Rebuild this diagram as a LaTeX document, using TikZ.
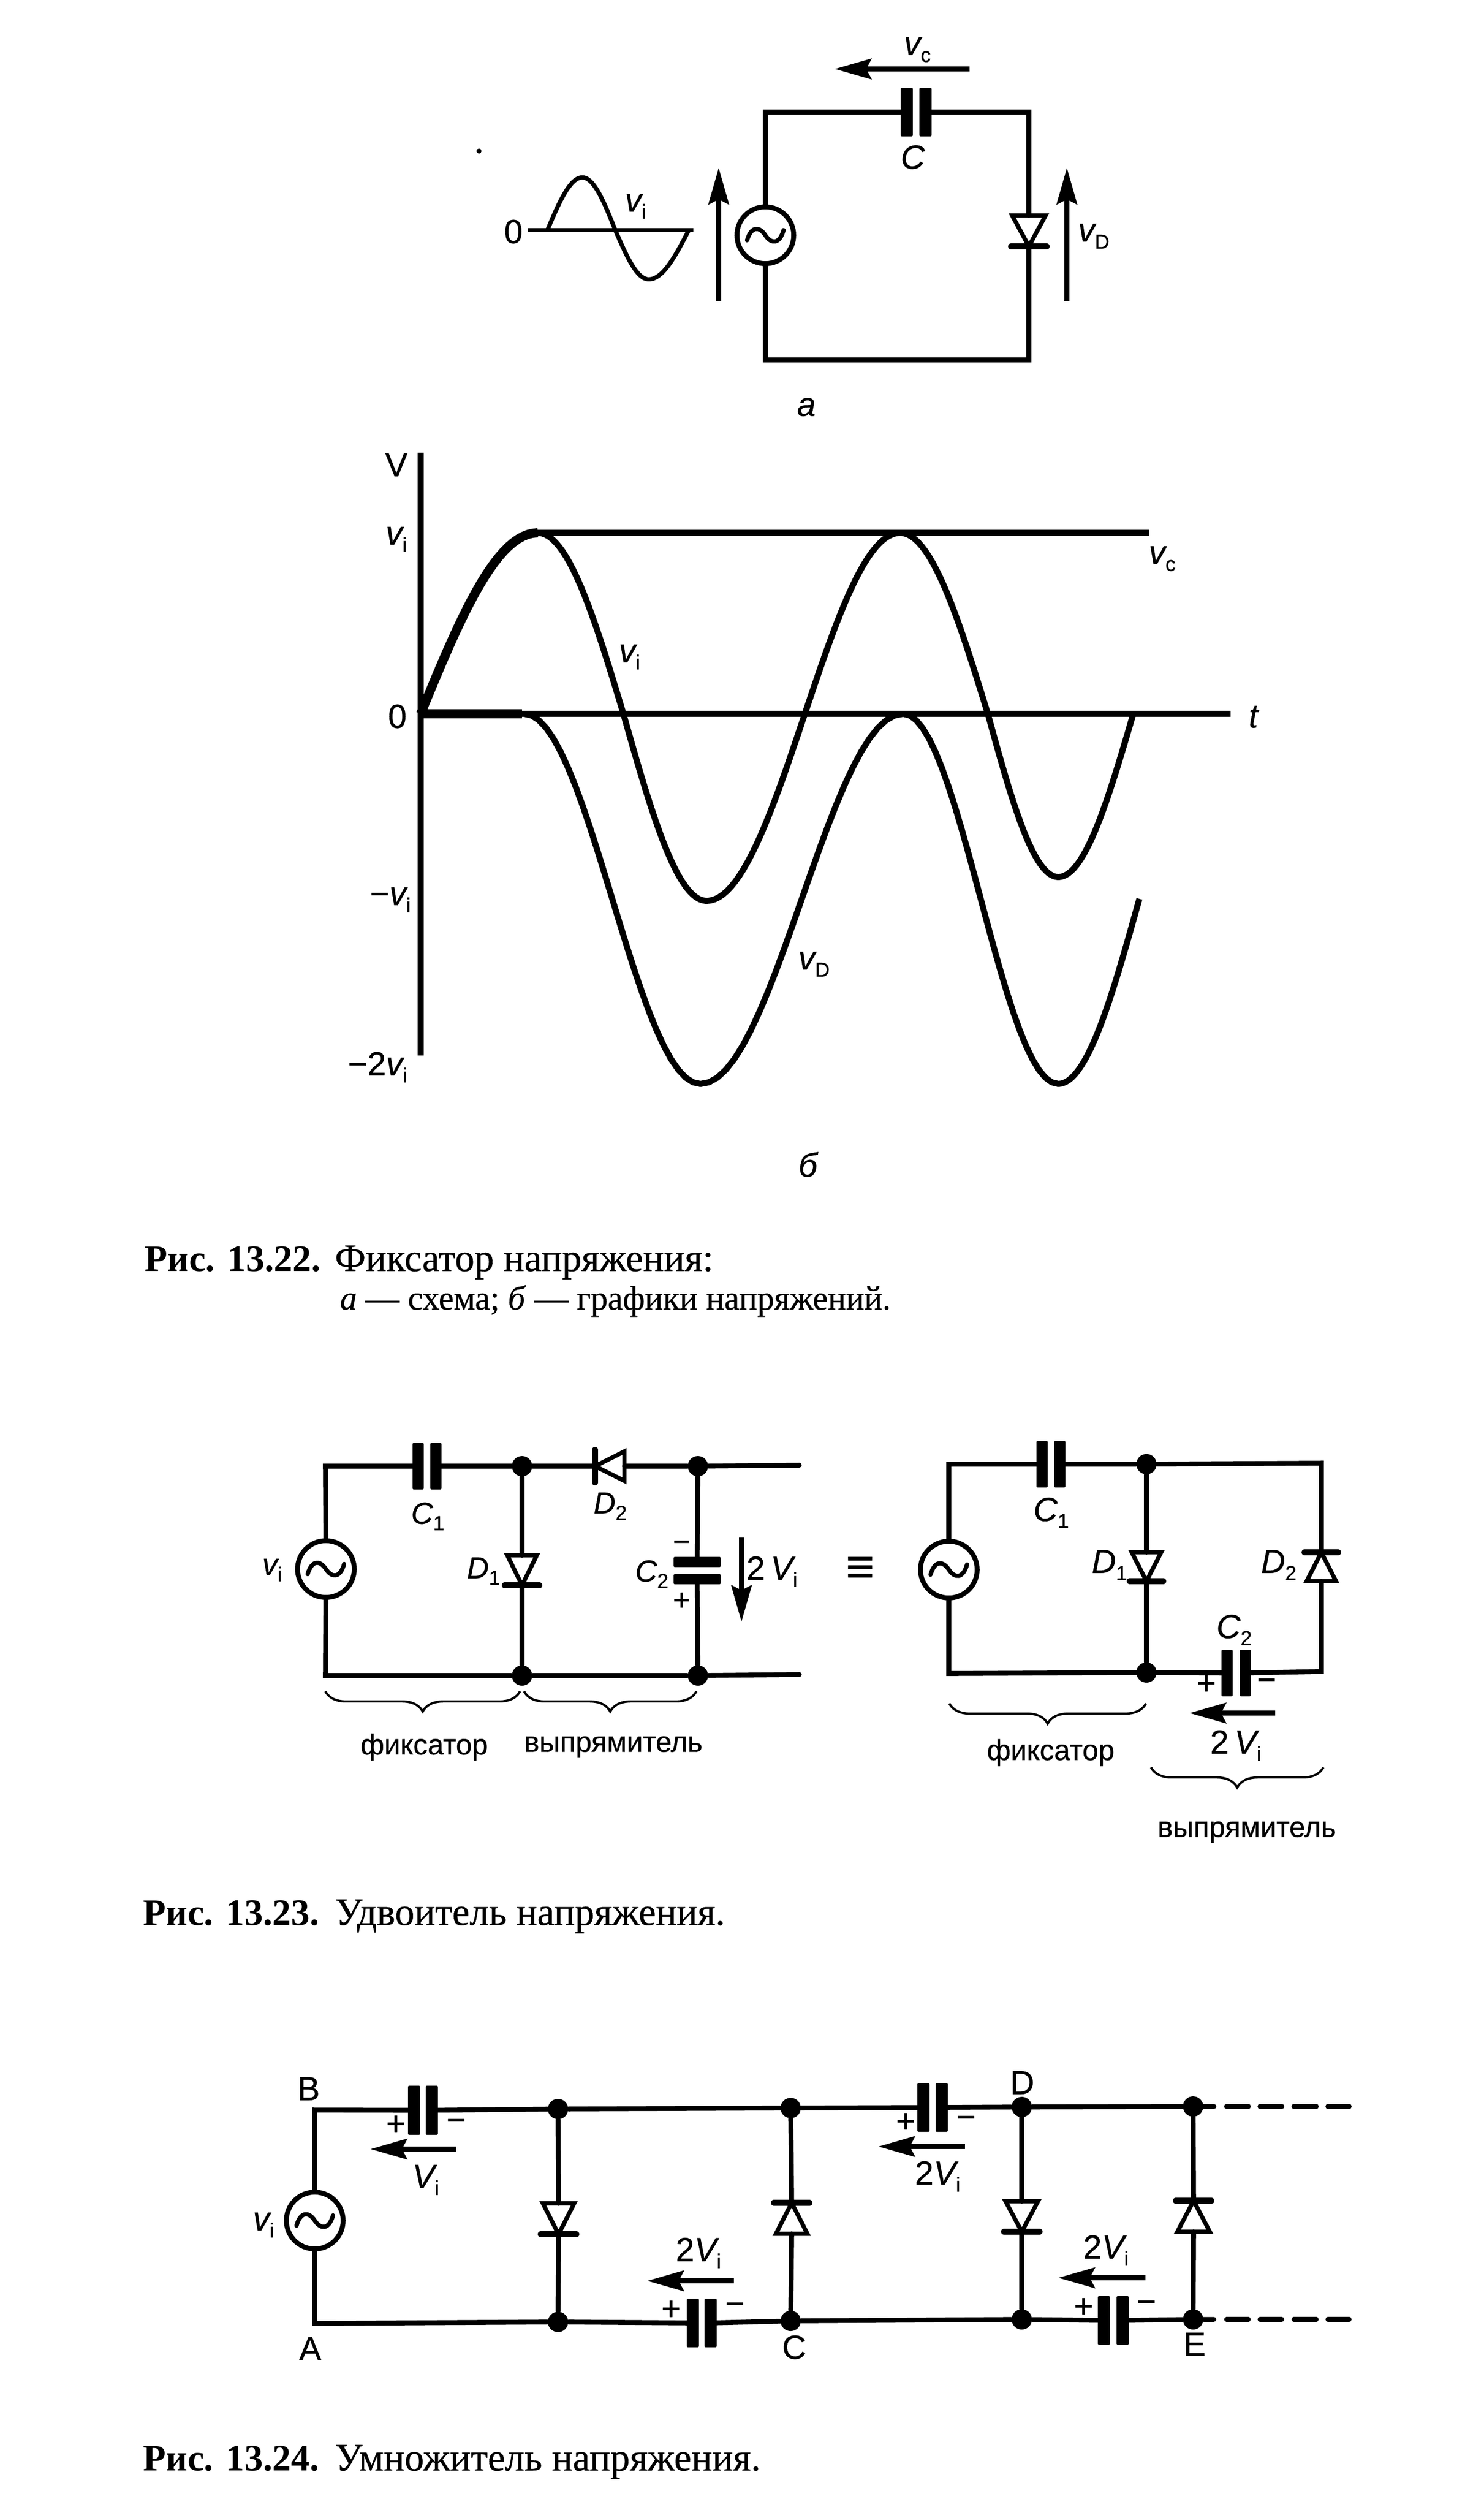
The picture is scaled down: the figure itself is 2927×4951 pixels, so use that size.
\documentclass[tikz,border=0pt]{standalone}
\usepackage{fontspec}
\setmainfont{Liberation Sans}[FakeBold=0.5]
\newfontfamily\capfont{Liberation Serif}[FakeBold=0.5]
\newfontfamily\capbold{Liberation Serif Bold}
\usetikzlibrary{arrows.meta,decorations.pathreplacing}
\tikzset{
  x=.25pt,y=-.25pt,
  wire/.style={line width=2.4pt,line join=miter,line cap=round},
  sinew/.style={line width=2.1pt,line join=round},
  curve/.style={line width=3pt,line join=round},
  src/.style={circle,draw,line width=2.4pt,minimum size=28pt,inner sep=0pt},
  tildew/.style={line width=2.1pt,line cap=round},
  junc/.style={circle,fill=black,minimum size=10pt,inner sep=0pt},
  plate/.style={fill=black,rounded corners=.6pt},
  diotri/.style={line width=2.1pt,line join=miter,fill=white},
  diobar/.style={line width=3pt,line cap=round},
  harrow/.style={line width=2.4pt,-{Stealth[length=18pt,width=10pt,inset=2.5pt]}},
  brc/.style={line width=1.1pt,decorate,decoration={brace,amplitude=10pt,aspect=.5}},
  dashw/.style={line width=2.4pt,line cap=round},
  lb/.style={inner sep=0pt,font=\fontsize{16.5}{18}\selectfont},
  lbs/.style={inner sep=0pt,font=\fontsize{15}{17}\selectfont},
  ru/.style={inner sep=0pt,font=\fontsize{14.2}{17}\selectfont},
  capb/.style={inner sep=0pt,anchor=base west,font=\capbold\fontsize{18.4}{20}\selectfont},
  capn/.style={inner sep=0pt,anchor=base west,font=\capfont\fontsize{19.2}{20}\selectfont},
  capm/.style={inner sep=0pt,anchor=base west,font=\capfont\fontsize{16.75}{19}\selectfont},
}
\newcommand\subt[1]{\raisebox{-.4ex}{\fontsize{10}{10}\selectfont #1}}
\newcommand\vv[1]{{\itshape v}\subt{#1}}
\newcommand\VV[1]{{\itshape V}\subt{#1}}
\newcommand\CC[2]{{\itshape #1}\subt{#2}}
\newcommand\sseg[6]{-- plot[domain=#1:#2,samples=25] ({#3+(\x-#1)/(#2-#1)*(#4-#3)},{#5-#6*sin(\x)})}
% name, x, y base, y bar, half base, half bar
\newcommand\diodeV[6]{%
  \coordinate (#1a) at (#2,#3); \coordinate (#1k) at (#2,#4);
  \draw[diotri] (#2-#5,#3) -- (#2+#5,#3) -- (#2,#4) -- cycle;
  \draw[diobar] (#2-#6,#4) -- (#2+#6,#4);}
% name, y, x base, x bar, half base, half bar
\newcommand\diodeH[6]{%
  \coordinate (#1a) at (#3,#2); \coordinate (#1k) at (#4,#2);
  \draw[diotri] (#3,#2-#5) -- (#3,#2+#5) -- (#4,#2) -- cycle;
  \draw[diobar] (#4,#2-#6) -- (#4,#2+#6);}
% name, x1, x2, y top, y bottom, half thickness : vertical plates
\newcommand\capV[6]{%
  \fill[plate] (#2-#6,#4) rectangle (#2+#6,#5);
  \fill[plate] (#3-#6,#4) rectangle (#3+#6,#5);
  \coordinate (#1l) at (#2,#4/2+#5/2); \coordinate (#1r) at (#3,#4/2+#5/2);}
% name, y1, y2, x left, x right, half thickness : horizontal plates
\newcommand\capH[6]{%
  \fill[plate] (#4,#2-#6) rectangle (#5,#2+#6);
  \fill[plate] (#4,#3-#6) rectangle (#5,#3+#6);
  \coordinate (#1t) at (#4/2+#5/2,#2); \coordinate (#1b) at (#4/2+#5/2,#3);}
\newcommand\srcwave[1]{\begin{scope}[shift={(#1)}]
  \draw[tildew] (-36,10) .. controls (-28,-18) and (-12,-18) .. (0,0) .. controls (12,18) and (28,18) .. (36,-10);
  \end{scope}}
\begin{document}
\begin{tikzpicture}
\useasboundingbox (0,0) rectangle (2927,4951);
\fill[white] (0,0) rectangle (2927,4951);
\fill (945,298) circle (5);

% ---------- Fig a
\node[src] (sA) at (1510,464) {};
\srcwave{sA}
\capV{cA}{1789}{1826}{173}{269}{12}
\diodeV{dA}{2030}{425}{486}{33}{35}
\coordinate (tAl) at (1510,221); \coordinate (tAr) at (2030,221);
\coordinate (bAl) at (1510,710); \coordinate (bAr) at (2030,710);
\draw[wire] (sA.north) -- (tAl) -- (cAl);
\draw[wire] (cAr) -- (tAr) -- (dAa);
\draw[wire] (dAk) -- (bAr) -- (bAl) -- (sA.south);
\coordinate (avcs) at (1913,136); \coordinate (avce) at (1647,136);
\draw[harrow] (avcs) -- (avce);
\coordinate (avis) at (1418,594); \coordinate (avie) at (1418,331);
\draw[harrow] (avis) -- (avie);
\coordinate (avds) at (2105,594); \coordinate (avde) at (2105,331);
\draw[harrow] (avds) -- (avde);
\node[lb] (lvc) at (1810,98) {\vv{c}};
\node[lb] (lC) at (1801,310) {\itshape C};
\node[lb] (lvD) at (2158,466) {\vv{D}};
\node[lb] (lvi) at (1254,407) {\vv{i}};
\node[lb] (l0) at (1013,457) {0};
\node[lb] (la) at (1591,803) {\itshape a};
\coordinate (sax0) at (1042,454); \coordinate (sax1) at (1368,454);
\draw[sinew] (sax0) -- (sax1);
\draw[sinew] (1080,454) \sseg{0}{90}{1080}{1149}{454}{104}\sseg{90}{180}{1149}{1214}{454}{104}\sseg{180}{270}{1214}{1280}{454}{97}\sseg{270}{360}{1280}{1359}{454}{97};

% ---------- Fig b
\coordinate (gy0) at (830,893); \coordinate (gy1) at (830,2082);
\coordinate (gx0) at (830,1408); \coordinate (gx1) at (2428,1408);
\coordinate (gc0) at (1061,1051); \coordinate (gc1) at (2267,1051);
\draw[curve] (gy0) -- (gy1);
\draw[curve] (gx0) -- (gx1);
\draw[curve] (gc0) -- (gc1);
\draw[line width=4.5pt] (gx0) -- (1030,1408);
\draw[line width=4.5pt,line join=round] (830,1408) \sseg{0}{90}{830}{1061}{1408}{357};
\draw[curve] (830,1408) \sseg{0}{90}{830}{1061}{1408}{357}\sseg{90}{180}{1061}{1230}{1408}{357}\sseg{180}{270}{1230}{1394}{1408}{369}\sseg{270}{360}{1394}{1588}{1408}{369}\sseg{0}{90}{1588}{1776}{1408}{357}\sseg{90}{180}{1776}{1949}{1408}{357}\sseg{180}{270}{1949}{2088}{1408}{322}\sseg{270}{360}{2088}{2236}{1408}{322};
\draw[curve] (1034,1408) \sseg{90}{270}{1034}{1382}{1773}{365}\sseg{270}{450}{1382}{1782}{1773}{365}\sseg{450}{630}{1782}{2088}{1773}{365}\sseg{630}{720}{2088}{2248}{1773}{365};
\node[lb] (gV) at (782,917) {V};
\node[lb] (gvi) at (782,1064) {\vv{i}};
\node[lb] (g0) at (784,1413) {0};
\node[lb] (gmv) at (770,1775) {−\vv{i}};
\node[lb] (g2v) at (745,2105) {−2\vv{i}};
\node[lb] (gcvi) at (1242,1296) {\vv{i}};
\node[lb] (gcvc) at (2293,1102) {\vv{c}};
\node[lb] (gcvd) at (1606,1902) {\vv{D}};
\node[lb] (gt) at (2473,1414) {\itshape t};
\node[lb] (gb) at (1594,2297) {\itshape б};

\node[capb] (cap1h) at (285,2507) {Рис. 13.22.};
\node[capn] (cap1) at (660,2507) {Фиксатор напряжения:};
\node[capm] (cap1b) at (670,2583) {\textit{а} — схема; \textit{б} — графики напряжений.};

% ---------- Fig 13.23 left
\node[src] (s2) at (643,3095) {};
\srcwave{s2}
\node[junc] (n1) at (1030,2892) {};
\node[junc] (n2) at (1377,2892) {};
\node[junc] (n3) at (1030,3305) {};
\node[junc] (n4) at (1377,3305) {};
\coordinate (t2l) at (642,2892); \coordinate (b2l) at (642,3305);
\coordinate (e2t) at (1577,2890); \coordinate (e2b) at (1577,3303);
\capV{c21}{825}{860}{2846}{2938}{11}
\diodeV{d21}{1030}{3068}{3127}{29}{34}
\diodeH{d22}{2892}{1232}{1174}{29}{32}
\capH{c22}{3081}{3115}{1329}{1422}{10}
\draw[wire] (s2.north) -- (t2l) -- (c21l);
\draw[wire] (c21r) -- (n1);
\draw[wire] (n1) -- (d22k); \draw[wire] (d22a) -- (n2);
\draw[wire] (n2) -- (e2t);
\draw[wire] (n1) -- (d21a); \draw[wire] (d21k) -- (n3);
\draw[wire] (n2) -- (c22t); \draw[wire] (c22b) -- (n4);
\draw[wire] (s2.south) -- (b2l) -- (n3) -- (n4) -- (e2b);
\coordinate (a2s) at (1463,3033); \coordinate (a2e) at (1463,3199);
\draw[harrow] (a2s) -- (a2e);
\node[lbs] (l2vi) at (537,3097) {\vv{i}};
\node[lbs] (l2c1) at (844,2991) {\CC{C}{1}};
\node[lbs] (l2d2) at (1204,2971) {\CC{D}{2}};
\node[lbs] (l2d1) at (954,3099) {\CC{D}{1}};
\node[lbs] (l2c2) at (1286,3105) {\CC{C}{2}};
\node[lbs] (l2m) at (1345,3050) {−};
\node[lbs] (l2p) at (1345,3159) {+};
\node[lb] (l2v) at (1523,3100) {2\,\VV{i}};
\node[inner sep=0pt,font=\fontsize{24}{26}\selectfont] (eqv) at (1697,3097) {≡};
\coordinate (b21a) at (642,3336); \coordinate (b21b) at (1026,3336);
\coordinate (b22a) at (1034,3336); \coordinate (b22b) at (1374,3336);
\draw[brc] (b21b) -- (b21a);
\draw[brc] (b22b) -- (b22a);
\node[ru] (l2f) at (837,3446) {фиксатор};
\node[ru] (l2w) at (1210,3446) {выпрямитель};

% ---------- Fig 13.23 right
\node[src] (s3) at (1872,3096) {};
\srcwave{s3}
\node[junc] (n5) at (2262,2888) {};
\node[junc] (n6) at (2262,3299) {};
\coordinate (t3l) at (1872,2888); \coordinate (b3l) at (1872,3301);
\coordinate (t3r) at (2607,2886); \coordinate (b3r) at (2607,3297);
\capV{c31}{2056}{2091}{2842}{2934}{11}
\capV{c32}{2421}{2457}{3254}{3346}{11}
\diodeV{d31}{2262}{3062}{3119}{29}{33}
\diodeV{d32}{2607}{3119}{3062}{29}{33}
\draw[wire] (s3.north) -- (t3l) -- (c31l);
\draw[wire] (c31r) -- (n5) -- (t3r) -- (d32k);
\draw[wire] (n5) -- (d31a); \draw[wire] (d31k) -- (n6);
\draw[wire] (d32a) -- (b3r) -- (c32r);
\draw[wire] (c32l) -- (n6) -- (b3l) -- (s3.south);
\coordinate (a3s) at (2516,3379); \coordinate (a3e) at (2347,3379);
\draw[harrow] (a3s) -- (a3e);
\node[lb] (l3c1) at (2074,2984) {\CC{C}{1}};
\node[lb] (l3d1) at (2189,3087) {\CC{D}{1}};
\node[lb] (l3d2) at (2523,3087) {\CC{D}{2}};
\node[lb] (l3c2) at (2435,3215) {\CC{C}{2}};
\node[lb] (l3p) at (2380,3323) {+};
\node[lb] (l3m) at (2499,3323) {−};
\node[lb] (l3v) at (2438,3443) {2\,\VV{i}};
\coordinate (b31a) at (1873,3360); \coordinate (b31b) at (2261,3360);
\coordinate (b32a) at (2271,3486); \coordinate (b32b) at (2611,3486);
\draw[brc] (b31b) -- (b31a);
\draw[brc] (b32b) -- (b32a);
\node[ru] (l3f) at (2073,3457) {фиксатор};
\node[ru] (l3w) at (2460,3614) {выпрямитель};

\node[capb] (cap2h) at (282,3797) {Рис. 13.23.};
\node[capn] (cap2) at (660,3797) {Удвоитель напряжения.};

% ---------- Fig 13.24
\node[src] (s4) at (621,4380) {};
\srcwave{s4}
\coordinate (t4l) at (621,4162); \coordinate (b4l) at (621,4583);
\node[junc] (m1) at (1101,4160) {};
\node[junc] (m2) at (1560,4158) {};
\node[junc] (m3) at (2016,4156) {};
\node[junc] (m4) at (2354,4155) {};
\node[junc] (k1) at (1101,4580) {};
\node[junc] (k2) at (1560,4578) {};
\node[junc] (k3) at (2016,4575) {};
\node[junc] (k4) at (2354,4575) {};
\capV{c41}{817}{852}{4114}{4211}{12}
\capV{c42}{1367}{1402}{4534}{4630}{12}
\capV{c43}{1822}{1858}{4109}{4205}{12}
\capV{c44}{2178}{2215}{4529}{4625}{12}
\diodeV{d41}{1102}{4346}{4407}{31}{35}
\diodeV{d42}{1562}{4406}{4345}{31}{35}
\diodeV{d43}{2016}{4342}{4402}{32}{35}
\diodeV{d44}{2355}{4402}{4341}{32}{35}
\coordinate (e4t) at (2395,4155); \coordinate (e4b) at (2395,4575);
\draw[wire] (s4.north) -- (t4l) -- (c41l);
\draw[wire] (c41r) -- (m1) -- (m2) -- (c43l);
\draw[wire] (c43r) -- (m3) -- (m4) -- (e4t);
\draw[wire] (s4.south) -- (b4l) -- (k1) -- (c42l);
\draw[wire] (c42r) -- (k2) -- (k3) -- (c44l);
\draw[wire] (c44r) -- (k4) -- (e4b);
\draw[wire] (m1) -- (d41a); \draw[wire] (d41k) -- (k1);
\draw[wire] (m2) -- (d42k); \draw[wire] (d42a) -- (k2);
\draw[wire] (m3) -- (d43a); \draw[wire] (d43k) -- (k3);
\draw[wire] (m4) -- (d44k); \draw[wire] (d44a) -- (k4);
\foreach \a/\b in {2420/2463,2486/2529,2553/2597,2620/2662}{
  \draw[dashw] (\a,4155) -- (\b,4155);
  \draw[dashw] (\a,4575) -- (\b,4575);
}
\coordinate (a41s) at (900,4239); \coordinate (a41e) at (731,4239);
\coordinate (a42s) at (1448,4499); \coordinate (a42e) at (1277,4499);
\coordinate (a43s) at (1904,4234); \coordinate (a43e) at (1733,4234);
\coordinate (a44s) at (2260,4493); \coordinate (a44e) at (2088,4493);
\draw[harrow] (a41s) -- (a41e);
\draw[harrow] (a42s) -- (a42e);
\draw[harrow] (a43s) -- (a43e);
\draw[harrow] (a44s) -- (a44e);
\node[lb] (l4vi) at (520,4389) {\vv{i}};
\node[lb] (l4B) at (609,4120) {B};
\node[lb] (l4A) at (612,4633) {A};
\node[lb] (l4C) at (1567,4630) {C};
\node[lb] (l4D) at (2017,4108) {D};
\node[lb] (l4E) at (2357,4624) {E};
\node[lb] (l4p1) at (781,4192) {+};
\node[lb] (l4m1) at (900,4192) {−};
\node[lb] (l4p2) at (1324,4557) {+};
\node[lb] (l4m2) at (1450,4554) {−};
\node[lb] (l4p3) at (1787,4187) {+};
\node[lb] (l4m3) at (1906,4186) {−};
\node[lb] (l4p4) at (2138,4552) {+};
\node[lb] (l4m4) at (2262,4550) {−};
\node[lb] (l4v1) at (840,4300) {\VV{i}};
\node[lb] (l4v2) at (1378,4444) {2\VV{i}};
\node[lb] (l4v3) at (1850,4293) {2\VV{i}};
\node[lb] (l4v4) at (2182,4439) {2\VV{i}};

\node[capb] (cap3h) at (282,4873) {Рис. 13.24.};
\node[capn] (cap3) at (660,4873) {Умножитель напряжения.};
\end{tikzpicture}
\end{document}
